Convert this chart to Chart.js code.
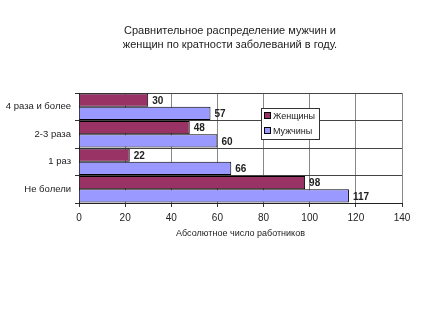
<!DOCTYPE html>
<html><head><meta charset="utf-8">
<script src="https://cdn.jsdelivr.net/npm/chart.js@4.4.1/dist/chart.umd.min.js"></script>
<style>html,body{margin:0;padding:0;background:#fff}#w{width:427px;height:320px}</style>
</head><body><div id="w"><canvas id="c" width="427" height="320"></canvas></div>
<script>
const categories = ["4 раза и более", "2-3 раза", "1 раз", "Не болели"];
const women = [30, 48, 22, 98];
const men = [57, 60, 66, 117];
const seriesNames = ["Женщины", "Мужчины"];
const titleLines = ["Сравнительное распределение мужчин и", "женщин по кратности заболеваний в году."];
const xTitle = "Абсолютное число работников";
const FONT = "'Liberation Sans', Arial, sans-serif";

const textPlugin = {
  id: 'texts',
  afterDraw(chart) {
    const ctx = chart.ctx, a = chart.chartArea;
    ctx.save();
    ctx.fillStyle = '#222';
    ctx.font = '11px ' + FONT;
    ctx.textAlign = 'center'; ctx.textBaseline = 'middle';
    titleLines.forEach((t, i) => ctx.fillText(t, 230, 31 + i * 14));
    ctx.font = '9px ' + FONT;
    ctx.fillText(xTitle, (a.left + a.right) / 2, 234);
    // value labels
    ctx.font = 'bold 10px ' + FONT;
    ctx.textAlign = 'left';
    chart.data.datasets.forEach((ds, di) => {
      chart.getDatasetMeta(di).data.forEach((bar, i) => {
        ctx.fillText(String(ds.data[i]), bar.x + 4, bar.y + 1);
      });
    });
    // legend
    const lx = 261, ly = 108, lw = 58, lh = 31;
    ctx.fillStyle = '#fff';
    ctx.fillRect(lx, ly, lw, lh);
    ctx.strokeStyle = '#333'; ctx.lineWidth = 1;
    ctx.strokeRect(lx + 0.5, ly + 0.5, lw, lh);
    ctx.font = '9px ' + FONT;
    chart.data.datasets.forEach((ds, di) => {
      const y = ly + 8 + di * 15;
      ctx.fillStyle = ds.backgroundColor;
      ctx.fillRect(lx + 3, y - 3, 6, 6);
      ctx.strokeStyle = '#000';
      ctx.strokeRect(lx + 3.5, y - 3.5, 6, 6);
      ctx.fillStyle = '#222';
      ctx.fillText(ds.label, lx + 12, y + 1);
    });
    ctx.restore();
  }
};

new Chart(document.getElementById('c'), {
  type: 'bar',
  data: {
    labels: categories,
    datasets: [
      { label: seriesNames[0], data: women, backgroundColor: '#993366', borderColor: '#000', borderWidth: 1, barPercentage: 1, categoryPercentage: 0.96 },
      { label: seriesNames[1], data: men, backgroundColor: '#9999FF', borderColor: '#000', borderWidth: 1, barPercentage: 1, categoryPercentage: 0.96 }
    ]
  },
  options: {
    indexAxis: 'y',
    responsive: false,
    animation: false,
    events: [],
    layout: { padding: { top: 93, right: 25, left: 0, bottom: 0 } },
    plugins: { legend: { display: false }, tooltip: { enabled: false }, title: { display: false } },
    scales: {
      x: {
        min: 0, max: 140,
        ticks: { stepSize: 20, color: '#222', font: { family: FONT, size: 10 }, padding: 5 },
        grid: { color: '#888', tickLength: 4, tickColor: '#333' },
        border: { color: '#222', width: 1 },
        afterFit(s) { s.height = 117; }
      },
      y: {
        ticks: { color: '#222', font: { family: FONT, size: 9.5 }, padding: 4 },
        grid: { color: '#444', tickLength: 4, tickColor: '#333', offset: true },
        border: { color: '#222', width: 1 },
        afterFit(s) { s.width = 79; }
      }
    }
  },
  plugins: [textPlugin]
});
</script></body></html>
